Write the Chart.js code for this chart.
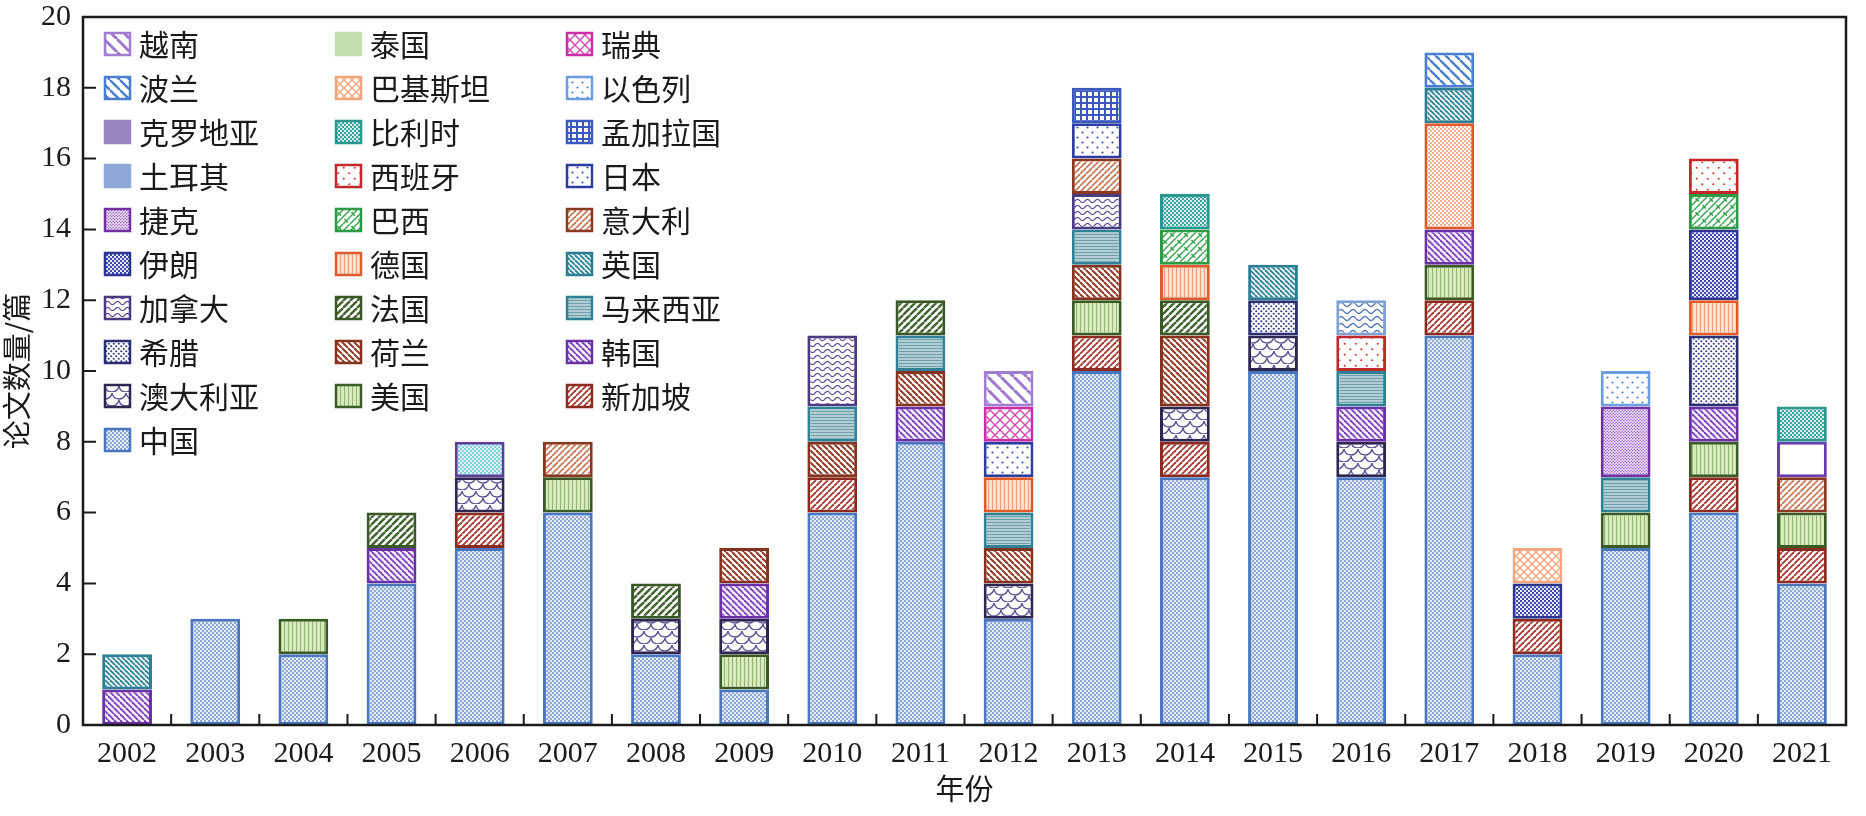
<!DOCTYPE html>
<html>
<head>
<meta charset="utf-8">
<title>论文数量</title>
<script src="https://cdn.jsdelivr.net/npm/chart.js@4.4.1/dist/chart.umd.min.js"></script>
<style>
  html, body { margin: 0; padding: 0; background: #fff; }
  #chart { display: block; }
</style>
</head>
<body>
<canvas id="chart" width="1866" height="816"></canvas>
<script>
// Papers per year, stacked by country (2002-2021)
const years = ['2002', '2003', '2004', '2005', '2006', '2007', '2008', '2009', '2010', '2011',
               '2012', '2013', '2014', '2015', '2016', '2017', '2018', '2019', '2020', '2021'];
const yTicks = [0, 2, 4, 6, 8, 10, 12, 14, 16, 18, 20];

//                  02 03 04 05 06 07 08 09 10 11 12  13 14  15 16  17 18 19 20 21
const china       = [0, 3, 2, 4, 5, 6, 2, 1, 6, 8, 3, 10, 7, 10, 7, 11, 2, 5, 6, 4];
const singapore   = [0, 0, 0, 0, 1, 0, 0, 0, 1, 0, 0, 1, 1, 0, 0, 1, 1, 0, 1, 1];
const usa         = [0, 0, 1, 0, 0, 1, 0, 1, 0, 0, 0, 1, 0, 0, 0, 1, 0, 1, 1, 1];
const australia   = [0, 0, 0, 0, 1, 0, 1, 1, 0, 0, 1, 0, 1, 1, 1, 0, 0, 0, 0, 0];
const korea       = [1, 0, 0, 1, 0, 0, 0, 1, 0, 1, 0, 0, 0, 0, 1, 1, 0, 0, 1, 0];
const netherlands = [0, 0, 0, 0, 0, 0, 0, 1, 1, 1, 1, 1, 2, 0, 0, 0, 0, 0, 0, 0];
const greece      = [0, 0, 0, 0, 0, 0, 0, 0, 0, 0, 0, 0, 0, 1, 0, 0, 0, 0, 2, 0];
const malaysia    = [0, 0, 0, 0, 0, 0, 0, 0, 1, 1, 1, 1, 0, 0, 1, 0, 0, 1, 0, 0];
const france      = [0, 0, 0, 1, 0, 0, 1, 0, 0, 1, 0, 0, 1, 0, 0, 0, 0, 0, 0, 0];
const canada      = [0, 0, 0, 0, 0, 0, 0, 0, 2, 0, 0, 1, 0, 0, 0, 0, 0, 0, 0, 0];
const germany     = [0, 0, 0, 0, 0, 0, 0, 0, 0, 0, 1, 0, 1, 0, 0, 3, 0, 0, 1, 0];
const uk          = [1, 0, 0, 0, 0, 0, 0, 0, 0, 0, 0, 0, 0, 1, 0, 1, 0, 0, 0, 0];
const iran        = [0, 0, 0, 0, 0, 0, 0, 0, 0, 0, 0, 0, 0, 0, 0, 0, 1, 0, 2, 0];
const italy       = [0, 0, 0, 0, 0, 1, 0, 0, 0, 0, 0, 1, 0, 0, 0, 0, 0, 0, 0, 1];
const brazil      = [0, 0, 0, 0, 0, 0, 0, 0, 0, 0, 0, 0, 1, 0, 0, 0, 0, 0, 1, 0];
const czech       = [0, 0, 0, 0, 0, 0, 0, 0, 0, 0, 0, 0, 0, 0, 0, 0, 0, 2, 0, 0];
const japan       = [0, 0, 0, 0, 0, 0, 0, 0, 0, 0, 1, 1, 0, 0, 0, 0, 0, 0, 0, 0];
const spain       = [0, 0, 0, 0, 0, 0, 0, 0, 0, 0, 0, 0, 0, 0, 1, 0, 0, 0, 1, 0];
const turkey      = [0, 0, 0, 0, 0, 0, 0, 0, 0, 0, 0, 0, 0, 0, 1, 0, 0, 0, 0, 0];
const bangladesh  = [0, 0, 0, 0, 0, 0, 0, 0, 0, 0, 0, 1, 0, 0, 0, 0, 0, 0, 0, 0];
const croatia     = [0, 0, 0, 0, 0, 0, 0, 0, 0, 0, 0, 0, 0, 0, 0, 0, 0, 0, 0, 1];
const belgium     = [0, 0, 0, 0, 0, 0, 0, 0, 0, 0, 0, 0, 1, 0, 0, 0, 0, 0, 0, 1];
const israel      = [0, 0, 0, 0, 0, 0, 0, 0, 0, 0, 0, 0, 0, 0, 0, 0, 0, 1, 0, 0];
const pakistan    = [0, 0, 0, 0, 0, 0, 0, 0, 0, 0, 0, 0, 0, 0, 0, 0, 1, 0, 0, 0];
const poland      = [0, 0, 0, 0, 0, 0, 0, 0, 0, 0, 0, 0, 0, 0, 0, 1, 0, 0, 0, 0];
const sweden      = [0, 0, 0, 0, 0, 0, 0, 0, 0, 0, 1, 0, 0, 0, 0, 0, 0, 0, 0, 0];
const thailand    = [0, 0, 0, 0, 1, 0, 0, 0, 0, 0, 0, 0, 0, 0, 0, 0, 0, 0, 0, 0];
const vietnam     = [0, 0, 0, 0, 0, 0, 0, 0, 0, 0, 1, 0, 0, 0, 0, 0, 0, 0, 0, 0];

// stacking order, bottom to top
const stackOrder = [
    ['中国', china], ['新加坡', singapore], ['美国', usa], ['澳大利亚', australia],
    ['韩国', korea], ['荷兰', netherlands], ['希腊', greece], ['马来西亚', malaysia],
    ['法国', france], ['加拿大', canada], ['德国', germany], ['英国', uk],
    ['伊朗', iran], ['意大利', italy], ['巴西', brazil], ['捷克', czech],
    ['日本', japan], ['西班牙', spain], ['土耳其', turkey], ['孟加拉国', bangladesh],
    ['克罗地亚', croatia], ['比利时', belgium], ['以色列', israel], ['巴基斯坦', pakistan],
    ['波兰', poland], ['瑞典', sweden], ['泰国', thailand], ['越南', vietnam]
];

// legend is read column by column
const legendCols = [
    ['越南', '波兰', '克罗地亚', '土耳其', '捷克', '伊朗', '加拿大', '希腊', '澳大利亚', '中国'],
    ['泰国', '巴基斯坦', '比利时', '西班牙', '巴西', '德国', '法国', '荷兰', '美国'],
    ['瑞典', '以色列', '孟加拉国', '日本', '意大利', '英国', '马来西亚', '韩国', '新加坡']
];

const serif = "'Liberation Serif', 'Times New Roman', 'Noto Sans CJK SC', serif";
const cjk = "'Noto Sans CJK SC', 'Liberation Serif', sans-serif";

// --- hatch patterns ---
function tile(w, h, bg, draw) {
    const c = document.createElement('canvas');
    c.width = w; c.height = h;
    const g = c.getContext('2d');
    g.fillStyle = bg;
    g.fillRect(0, 0, w, h);
    draw(g, w, h);
    return g.createPattern(c, 'repeat');
}
function checker(fg, bg, n) {
    return tile(n, n, bg, (g) => {
        g.fillStyle = fg;
        g.fillRect(0, 0, n / 2, n / 2);
        g.fillRect(n / 2, n / 2, n / 2, n / 2);
    });
}
function fwd(fg, bg, n, lw) {
    return tile(n, n, bg, (g) => {
        g.strokeStyle = fg; g.lineWidth = lw;
        for (let k = -n; k <= n; k += n) {
            g.beginPath(); g.moveTo(k, n); g.lineTo(k + n, 0); g.stroke();
        }
    });
}
function back(fg, bg, n, lw) {
    return tile(n, n, bg, (g) => {
        g.strokeStyle = fg; g.lineWidth = lw;
        for (let k = -n; k <= n; k += n) {
            g.beginPath(); g.moveTo(k, 0); g.lineTo(k + n, n); g.stroke();
        }
    });
}
function cross(fg, bg, n, lw) {
    return tile(n, n, bg, (g) => {
        g.strokeStyle = fg; g.lineWidth = lw;
        for (let k = -n; k <= n; k += n) {
            g.beginPath(); g.moveTo(k, n); g.lineTo(k + n, 0); g.stroke();
            g.beginPath(); g.moveTo(k, 0); g.lineTo(k + n, n); g.stroke();
        }
    });
}
function vert(fg, bg, n, lw) {
    return tile(n, n, bg, (g) => { g.fillStyle = fg; g.fillRect(0, 0, lw, n); });
}
function horiz(fg, bg, n, lw) {
    return tile(n, n, bg, (g) => { g.fillStyle = fg; g.fillRect(0, 0, n, lw); });
}
function grid(fg, bg, n, lw) {
    return tile(n, n, bg, (g) => {
        g.fillStyle = fg; g.fillRect(0, 0, n, lw); g.fillRect(0, 0, lw, n);
    });
}
function dots(fg, bg, n, r) {
    return tile(n, n, bg, (g) => {
        g.fillStyle = fg;
        [[n / 4, n / 4], [3 * n / 4, 3 * n / 4]].forEach(([x, y]) => {
            g.beginPath(); g.arc(x, y, r, 0, Math.PI * 2); g.fill();
        });
    });
}
function wave(fg, bg, w, h, amp, lw) {
    return tile(w, h, bg, (g) => {
        g.strokeStyle = fg; g.lineWidth = lw;
        g.beginPath();
        for (let x = 0; x <= w; x += 0.5) {
            const y = h / 2 + amp * Math.sin(2 * Math.PI * x / w);
            if (x === 0) g.moveTo(x, y); else g.lineTo(x, y);
        }
        g.stroke();
    });
}
function scales(fg, bg, n, lw) {
    return tile(n, n, bg, (g) => {
        g.strokeStyle = fg; g.lineWidth = lw;
        [[n / 2, 0], [0, n / 2], [n, n / 2], [n / 2, n]].forEach(([x, y]) => {
            g.beginPath(); g.arc(x, y, n / 2, 0.15, Math.PI - 0.15); g.stroke();
        });
    });
}
function brick(fg, bg, n, lw) {
    return tile(n, n, bg, (g) => {
        g.strokeStyle = fg; g.lineWidth = lw;
        for (let k = -n; k <= n; k += n / 2) {
            g.beginPath(); g.moveTo(k, n); g.lineTo(k + n, 0); g.stroke();
        }
        g.beginPath(); g.moveTo(n * 0.1, n * 0.15); g.lineTo(n * 0.35, n * 0.4); g.stroke();
        g.beginPath(); g.moveTo(n * 0.6, n * 0.65); g.lineTo(n * 0.85, n * 0.9); g.stroke();
    });
}

const style = {
    '中国':     { border: '#4a76c0', fill: checker('#8aa6da', '#e8eef8', 4) },
    '新加坡':   { border: '#8c2a20', fill: fwd('#a4392c', '#fff', 6, 1.8) },
    '美国':     { border: '#3a5a26', fill: vert('#8fb86e', '#d6eabb', 4, 1) },
    '澳大利亚': { border: '#2c2650', fill: scales('#5b4f94', '#fff', 14, 1.3) },
    '韩国':     { border: '#6a30a6', fill: back('#7b42b8', '#f4eefa', 6, 1.8) },
    '荷兰':     { border: '#85331f', fill: back('#8e3b25', '#fff', 6, 2) },
    '希腊':     { border: '#2c2f74', fill: dots('#3b3f8a', '#fff', 5, 1.1) },
    '马来西亚': { border: '#2f8296', fill: horiz('#6e9fad', '#b3cdd5', 3, 1) },
    '法国':     { border: '#3a5728', fill: fwd('#40632f', '#fff', 7, 2.4) },
    '加拿大':   { border: '#4b3a82', fill: wave('#5b4b96', '#fff', 10, 6, 1.6, 1.2) },
    '德国':     { border: '#e05a2a', fill: vert('#f2a07a', '#fde0cd', 4, 1) },
    '英国':     { border: '#2c7f93', fill: back('#2f8296', '#eef6f8', 5, 1.8) },
    '伊朗':     { border: '#2c3590', fill: checker('#3d49a8', '#e8eaf6', 4) },
    '意大利':   { border: '#8a3822', fill: fwd('#c77b5a', '#fff', 6, 1.8) },
    '巴西':     { border: '#2e9a46', fill: brick('#3aa552', '#fff', 14, 1.5) },
    '捷克':     { border: '#7030a0', fill: dots('#9a5fc8', '#f5ecfa', 3, 0.8) },
    '日本':     { border: '#2e3ea0', fill: dots('#3d4db0', '#fff', 10, 1.1) },
    '西班牙':   { border: '#c0282a', fill: dots('#d0403a', '#fff', 11, 1.1) },
    '土耳其':   { border: '#7fa2d6', fill: wave('#4d72b8', '#fff', 12, 7, 2, 1.3), swatch: '#8ea9d8' },
    '孟加拉国': { border: '#3a58c0', fill: grid('#3a58c0', '#fff', 6, 2) },
    '克罗地亚': { border: '#6a3cb0', fill: '#fff', swatch: '#9985bf' },
    '比利时':   { border: '#2a9690', fill: checker('#3aa39c', '#d9efed', 4) },
    '以色列':   { border: '#6a9ee0', fill: dots('#4a7fd0', '#fff', 10, 1.1) },
    '巴基斯坦': { border: '#f4a67e', fill: cross('#f4a67e', '#fff', 8, 1.4) },
    '波兰':     { border: '#4a7fcf', fill: back('#4a7fcf', '#fff', 10, 2.4) },
    '瑞典':     { border: '#cc2ea8', fill: cross('#d54bb6', '#fff', 10, 1.4) },
    '泰国':     { border: '#5c3f96', fill: checker('#7dcfe0', '#e0f5f9', 4), swatch: '#c3dfb0' },
    '越南':     { border: '#a07dd0', fill: back('#9c79cf', '#fff', 13, 3) }
};
// the 2017 German block is drawn with an orange dot fill in the original
const germany2017 = dots('#f08a60', '#fff', 4, 0.9);

const datasets = stackOrder.map(([name, values]) => ({
    label: name,
    data: values.map(v => v === 0 ? null : v),
    backgroundColor: name === '德国'
        ? (c) => (c.dataIndex === 15 ? germany2017 : style[name].fill)
        : style[name].fill,
    borderColor: style[name].border,
    borderWidth: 3,
    borderSkipped: false,
    barPercentage: 0.565,
    categoryPercentage: 1
}));

// box frame + inward tick marks
const frame = {
    id: 'frame',
    afterDatasetsDraw(chart) {
        const { ctx, chartArea: a, scales: { x, y } } = chart;
        ctx.save();
        ctx.strokeStyle = '#1a1a1a';
        ctx.lineWidth = 2.5;
        ctx.strokeRect(a.left, a.top, a.right - a.left, a.bottom - a.top);
        ctx.lineWidth = 2;
        ctx.beginPath();
        yTicks.forEach(v => {
            const py = y.getPixelForValue(v);
            ctx.moveTo(a.left, py);
            ctx.lineTo(a.left + 13, py);
        });
        for (let i = 1; i < years.length; i++) {
            const px = (x.getPixelForValue(i - 1) + x.getPixelForValue(i)) / 2;
            ctx.moveTo(px, a.bottom);
            ctx.lineTo(px, a.bottom - 11);
        }
        ctx.stroke();
        ctx.restore();
    }
};

// legend inside the plot, three columns
const legendBox = {
    id: 'legendBox',
    afterDraw(chart) {
        const { ctx, chartArea: a } = chart;
        const colX = [22, 253, 484];
        ctx.save();
        ctx.font = '30px ' + cjk;
        ctx.textBaseline = 'middle';
        legendCols.forEach((col, ci) => {
            col.forEach((name, ri) => {
                const st = style[name];
                const sx = a.left + colX[ci];
                const sy = a.top + 27 + ri * 44;
                ctx.fillStyle = st.swatch || st.fill;
                ctx.fillRect(sx, sy - 11, 25, 22);
                ctx.strokeStyle = st.swatch || st.border;
                ctx.lineWidth = 2.5;
                ctx.strokeRect(sx, sy - 11, 25, 22);
                ctx.fillStyle = '#1a1a1a';
                ctx.fillText(name, sx + 34, sy + 1);
            });
        });
        ctx.restore();
    }
};

new Chart(document.getElementById('chart'), {
    type: 'bar',
    data: { labels: years, datasets: datasets },
    options: {
        responsive: false,
        animation: false,
        layout: { padding: { top: 17, right: 20, left: 0, bottom: 0 } },
        plugins: { legend: { display: false }, tooltip: { enabled: false } },
        scales: {
            x: {
                stacked: true,
                grid: { display: false, drawTicks: false },
                border: { display: false },
                ticks: { font: { family: serif, size: 30 }, color: '#1a1a1a', padding: 11, maxRotation: 0 },
                title: { display: true, text: '年份', font: { family: cjk, size: 29 }, color: '#1a1a1a', padding: { top: 0, bottom: 10 } },
                afterFit: (s) => { s.height = 91; }
            },
            y: {
                stacked: true,
                min: 0,
                max: 20,
                grid: { display: false, drawTicks: false },
                border: { display: false },
                ticks: { stepSize: 2, font: { family: serif, size: 30 }, color: '#1a1a1a', padding: 12 },
                title: { display: true, text: '论文数量/篇', font: { family: cjk, size: 29 }, color: '#1a1a1a', padding: { top: 0, bottom: 0 } },
                afterFit: (s) => { s.width = 83; s.paddingTop = 0; s.paddingBottom = 0; }
            }
        }
    },
    plugins: [frame, legendBox]
});
</script>
</body>
</html>
